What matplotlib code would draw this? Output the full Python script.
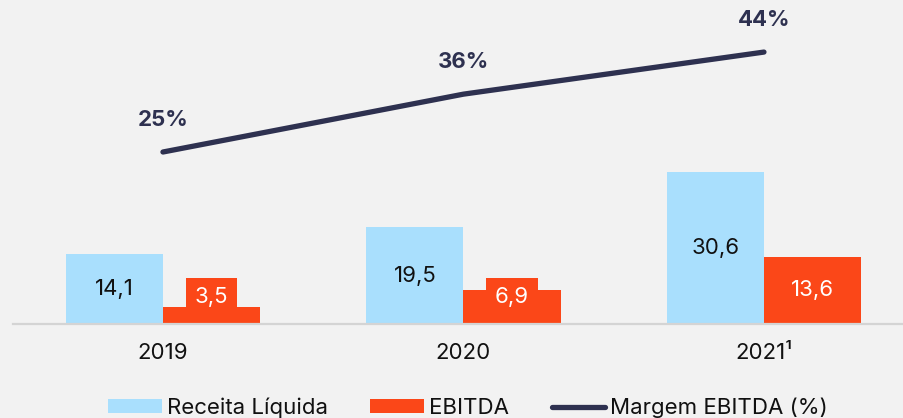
import matplotlib
matplotlib.use("Agg")
import matplotlib.pyplot as plt
import numpy as np

categories = ["2019", "2020", "2021¹"]
receita = [14.1, 19.5, 30.6]
ebitda = [3.5, 6.9, 13.6]
margem = [25, 36, 44]
receita_labels = ["14,1", "19,5", "30,6"]
ebitda_labels = ["3,5", "6,9", "13,6"]
margem_labels = ["25%", "36%", "44%"]

BLUE = "#A9DFFD"
ORANGE = "#FB4718"
NAVY = "#2E3150"
BG = "#F2F2F2"
FS = 16

plt.rcParams['font.family'] = ['Inter', 'DejaVu Sans']

W, H = 904, 418
fig = plt.figure(figsize=(W / 100, H / 100), dpi=100, facecolor=BG)

# axes: left at px 13, right at image edge, bottom at px 324, top at px 0
ax = fig.add_axes([13 / W, 1 - 324 / H, 1 - 13 / W, 324 / H])
ax.set_facecolor(BG)
ax.patch.set_alpha(0)

x = np.arange(len(categories))
bw = 0.323
ax.bar(x - bw / 2, receita, bw, color=BLUE, label="Receita Líquida", zorder=2)
ax.bar(x + bw / 2, ebitda, bw, color=ORANGE, label="EBITDA", zorder=2)

ax.set_xlim(-0.499, 2.466)
ax.set_ylim(0, 65.3)

for s in ["top", "right", "left"]:
    ax.spines[s].set_visible(False)
ax.spines["bottom"].set_color("#D4D4D4")
ax.spines["bottom"].set_linewidth(1.6)
ax.set_yticks([])
ax.set_xticks(x)
ax.set_xticklabels(categories, fontsize=FS, color="#111111")
ax.tick_params(axis="x", length=0, pad=14)

for i in range(len(categories)):
    ax.text(x[i] - bw / 2, receita[i] / 2, receita_labels[i], ha="center", va="center",
            fontsize=FS, color="#111111", zorder=4)
    yv = ebitda[i] / 2
    if ebitda[i] < 8:
        yv = 5.4
        ax.text(x[i] + bw / 2, yv, ebitda_labels[i], ha="center", va="center",
                fontsize=FS, color="white", zorder=4,
                bbox=dict(boxstyle="square,pad=0.4", fc=ORANGE, ec="none"))
    else:
        ax.text(x[i] + bw / 2, yv, ebitda_labels[i], ha="center", va="center",
                fontsize=FS, color="white", zorder=4)

ax2 = ax.twinx()
ax2.set_ylim(-7.7, 53.9)
ax2.axis("off")
ax2.plot(x, margem, color=NAVY, lw=3.8, solid_capstyle="round", label="Margem EBITDA (%)", zorder=3)
for i in range(len(categories)):
    ax2.annotate(margem_labels[i], (x[i], margem[i]), xytext=(0, 23), textcoords="offset points",
                 ha="center", va="center", fontsize=FS, fontweight="bold", color=NAVY)

h1, l1 = ax.get_legend_handles_labels()
h2, l2 = ax2.get_legend_handles_labels()
leg = fig.legend(h1 + h2, l1 + l2, loc="center", bbox_to_anchor=(0.518, 0.024), ncol=3,
                 frameon=False, fontsize=FS, handlelength=2.4, handleheight=0.6,
                 handletextpad=0.25, columnspacing=1.9, borderpad=0, borderaxespad=0)
for t in leg.get_texts():
    t.set_color("#111111")

fig.savefig("out.png", dpi=100, facecolor=BG)
